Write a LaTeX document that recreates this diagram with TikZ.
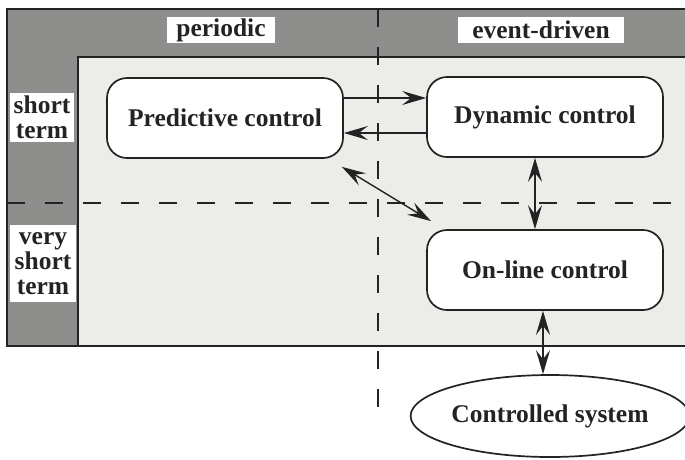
\documentclass[tikz,border=0pt]{standalone}
\usepackage{fontspec}
\setmainfont{Liberation Serif}
\usetikzlibrary{arrows.meta,shapes.geometric}
\definecolor{bandgray}{RGB}{142,142,140}
\definecolor{panelgray}{RGB}{236,236,233}
\definecolor{ink}{RGB}{35,35,35}
\begin{document}
\begin{tikzpicture}[x=1pt,y=-1pt,
  txt/.style={font=\fontsize{25.5}{24.8}\selectfont\bfseries, text=ink},
  ctrlbox/.style={txt, draw=ink, line width=1.7pt, fill=white, rounded corners=20pt,
    minimum width=236pt, minimum height=80pt, inner sep=0pt},
  tag/.style={txt, fill=white, inner sep=0pt, align=center},
  grid/.style={draw=ink, line width=1.7pt, dash pattern=on 18pt off 20pt},
  flow/.style={draw=ink, line width=1.6pt, -{Stealth[length=24pt,width=14pt,inset=9pt]}},
  flow2/.style={draw=ink, line width=1.4pt,
    {Stealth[length=24pt,width=14pt,inset=9pt]}-{Stealth[length=24pt,width=14pt,inset=9pt]}}
]
\useasboundingbox (0,0) rectangle (685,459);
\begin{scope}
\clip (0,0) rectangle (685,459);
% outer frame with dark bands and light working panel
\fill[bandgray] (7,9) rectangle (700,346);
\fill[panelgray] (78,57) rectangle (700,346);
\draw[ink, line width=1.7pt] (78,346) -- (78,57) -- (700,57);
\draw[ink, line width=1.9pt] (700,9) -- (7,9) -- (7,346) -- (700,346);
\end{scope}

% column and row captions
\node[tag, minimum width=108pt, minimum height=26pt] (per) at (221,30) {periodic};
\node[tag, minimum width=166pt, minimum height=26pt] (evt) at (541,30) {event-driven};
\node[tag, minimum width=64pt, minimum height=49pt] (st) at (42,117.5) {short\\term};
\node[tag, minimum width=66pt, minimum height=77pt] (vst) at (43,263.5) {very\\short\\term};

% time-scale separators
\coordinate (hl) at (7,203);
\coordinate (hr) at (685,203);
\coordinate (vt) at (378,9);
\coordinate (vb) at (378,412);
\draw[grid] (hl) -- (hr);
\draw[grid] (vt) -- (vb);

% control levels
\node[ctrlbox] (pred) at (225,118) {Predictive control};
\node[ctrlbox] (dyn) at (545,117) {Dynamic control};
\node[ctrlbox] (onl) at (545,270) {On-line control};
\node[txt, draw=ink, line width=1.7pt, fill=white, ellipse, inner sep=0pt,
  minimum width=264pt, minimum height=82pt] (sys) at (550,416) {Controlled system};

% information flows
\draw[flow] (pred.east |- 0,98) -- (dyn.west |- 0,98);
\draw[flow] (dyn.west |- 0,133) -- (pred.east |- 0,133);
\draw[flow2] ([xshift=-2pt,yshift=-8pt]pred.south east) -- ([xshift=5pt,yshift=8pt]onl.north west);
\draw[flow2] (dyn.south -| 535,0) -- (onl.north -| 535,0);
\draw[flow2] (onl.south -| 543,0) -- (sys.north -| 543,0);
\end{tikzpicture}
\end{document}
